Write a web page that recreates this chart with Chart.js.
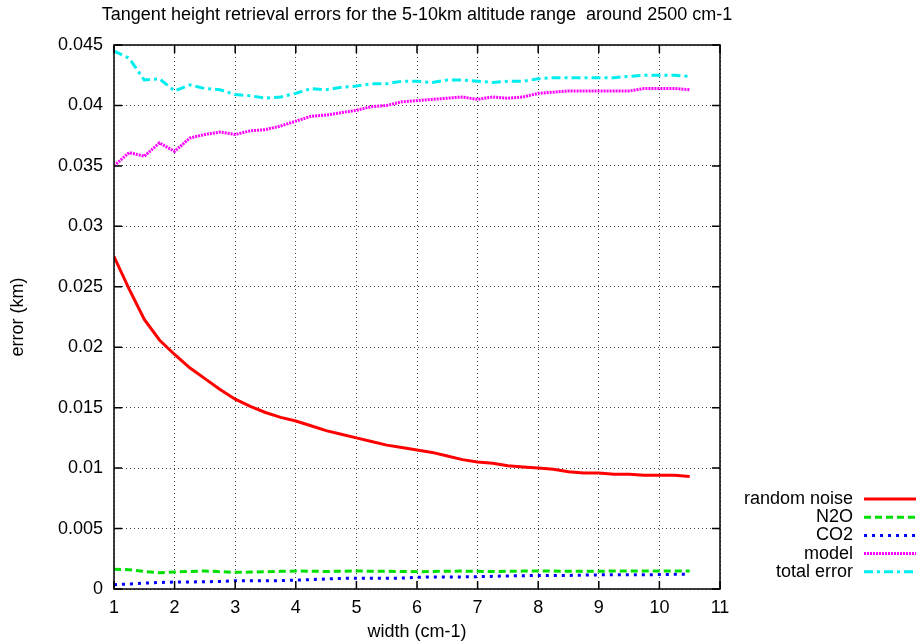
<!DOCTYPE html>
<html lang="en">
<head>
<meta charset="UTF-8">
<title>Tangent height retrieval errors</title>
<script src="https://cdn.jsdelivr.net/npm/chart.js"></script>
<style>
  body { margin: 0; background: #fff; }
</style>
</head>
<body>
<canvas id="errChart" width="916" height="642"></canvas>
<script>
const FONT = '"Liberation Sans", Arial, sans-serif';

// spectral window width (cm-1)
const widths = [1, 1.25, 1.5, 1.75, 2, 2.25, 2.5, 2.75, 3, 3.25, 3.5, 3.75, 4,
  4.25, 4.5, 4.75, 5, 5.25, 5.5, 5.75, 6, 6.25, 6.5, 6.75, 7, 7.25, 7.5, 7.75,
  8, 8.25, 8.5, 8.75, 9, 9.25, 9.5, 9.75, 10, 10.25, 10.5];

// errors in km
const randomNoise = [0.0275, 0.0248, 0.0223, 0.0206, 0.0194, 0.0183, 0.0174, 0.0165,
  0.0157, 0.0151, 0.0146, 0.0142, 0.0139, 0.0135, 0.0131, 0.0128, 0.0125, 0.0122,
  0.0119, 0.0117, 0.0115, 0.0113, 0.0110, 0.0107, 0.0105, 0.0104, 0.0102, 0.0101,
  0.0100, 0.0099, 0.0097, 0.0096, 0.0096, 0.0095, 0.0095, 0.0094, 0.0094, 0.0094, 0.0093];

const n2o = [0.00163, 0.00160, 0.00145, 0.00135, 0.00140, 0.00145, 0.00149, 0.00143,
  0.00138, 0.00140, 0.00143, 0.00146, 0.00149, 0.00147, 0.00145, 0.00147, 0.00149,
  0.00147, 0.00146, 0.00145, 0.00143, 0.00145, 0.00147, 0.00148, 0.00146, 0.00145,
  0.00146, 0.00148, 0.00149, 0.00148, 0.00147, 0.00146, 0.00147, 0.00149, 0.00149,
  0.00148, 0.00148, 0.00149, 0.00149];

const co2 = [0.00035, 0.00042, 0.00048, 0.00054, 0.00058, 0.00058, 0.00060, 0.00063,
  0.00068, 0.00068, 0.00068, 0.00069, 0.00073, 0.00078, 0.00083, 0.00088, 0.00088,
  0.00088, 0.00088, 0.00090, 0.00097, 0.00100, 0.00100, 0.00100, 0.00102, 0.00105,
  0.00108, 0.00110, 0.00112, 0.00112, 0.00112, 0.00115, 0.00117, 0.00117, 0.00117,
  0.00117, 0.00120, 0.00121, 0.00121];

const model = [0.0350, 0.0361, 0.0358, 0.0369, 0.0362, 0.0373, 0.0376, 0.0378, 0.0376,
  0.0379, 0.0380, 0.0383, 0.0387, 0.0391, 0.0392, 0.0394, 0.0396, 0.0399, 0.0400,
  0.0403, 0.0404, 0.0405, 0.0406, 0.0407, 0.0405, 0.0407, 0.0406, 0.0407, 0.0410,
  0.0411, 0.0412, 0.0412, 0.0412, 0.0412, 0.0412, 0.0414, 0.0414, 0.0414, 0.0413];

const totalError = [0.0445, 0.0439, 0.0421, 0.0422, 0.0412, 0.0417, 0.0414, 0.0413,
  0.0409, 0.0408, 0.0406, 0.0407, 0.0410, 0.0414, 0.0413, 0.0415, 0.0416, 0.0418,
  0.0418, 0.0420, 0.0420, 0.0419, 0.0421, 0.0421, 0.0420, 0.0419, 0.0420, 0.0420,
  0.0422, 0.0423, 0.0423, 0.0423, 0.0423, 0.0423, 0.0424, 0.0425, 0.0425, 0.0425, 0.0424];

const titleText = 'Tangent height retrieval errors for the 5-10km altitude range  around 2500 cm-1';
const xLabel = 'width (cm-1)';
const yLabel = 'error (km)';

function series(label, values, color, dash) {
  return {
    label: label,
    data: widths.map((w, i) => ({ x: w, y: values[i] })),
    borderColor: color,
    borderWidth: 3,
    borderDash: dash,
    pointRadius: 0,
    tension: 0,
    fill: false
  };
}

// frame with inward ticks on all four sides, title, axis titles and key
const gnuplotFrame = {
  id: 'gnuplotFrame',
  afterDatasetsDraw(chart) {
    const { ctx, chartArea: a, scales } = chart;
    ctx.save();
    ctx.strokeStyle = '#000';
    ctx.lineWidth = 1.5;
    ctx.setLineDash([]);
    ctx.strokeRect(a.left, a.top, a.right - a.left, a.bottom - a.top);
    const tl = 8;
    ctx.beginPath();
    scales.x.ticks.forEach(t => {
      const px = scales.x.getPixelForValue(t.value);
      ctx.moveTo(px, a.bottom); ctx.lineTo(px, a.bottom - tl);
      ctx.moveTo(px, a.top); ctx.lineTo(px, a.top + tl);
    });
    scales.y.ticks.forEach(t => {
      const py = scales.y.getPixelForValue(t.value);
      ctx.moveTo(a.left, py); ctx.lineTo(a.left + tl, py);
      ctx.moveTo(a.right, py); ctx.lineTo(a.right - tl, py);
    });
    ctx.stroke();
    ctx.restore();
  },
  afterDraw(chart) {
    const { ctx, chartArea: a } = chart;
    ctx.save();
    ctx.fillStyle = '#000';
    ctx.font = '18px ' + FONT;
    ctx.textAlign = 'center';
    ctx.textBaseline = 'middle';
    ctx.fillText(titleText, (a.left + a.right) / 2, 15);

    ctx.fillText(xLabel, (a.left + a.right) / 2, 632);
    ctx.save();
    ctx.translate(18, (a.top + a.bottom) / 2);
    ctx.rotate(-Math.PI / 2);
    ctx.fillText(yLabel, 0, 0);
    ctx.restore();

    // key, bottom right outside the plot
    ctx.textAlign = 'right';
    chart.data.datasets.forEach((ds, i) => {
      const y = 499 + i * 18.2;
      ctx.fillStyle = '#000';
      ctx.fillText(ds.label, 853, y);
      ctx.strokeStyle = ds.borderColor;
      ctx.lineWidth = 3;
      ctx.setLineDash(ds.borderDash || []);
      ctx.beginPath();
      ctx.moveTo(864, y);
      ctx.lineTo(916, y);
      ctx.stroke();
    });
    ctx.restore();
  }
};

new Chart(document.getElementById('errChart'), {
  type: 'line',
  data: {
    datasets: [
      series('random noise', randomNoise, '#ff0000', []),
      series('N2O', n2o, '#00e000', [7, 4]),
      series('CO2', co2, '#0000ff', [3, 5]),
      series('model', model, '#ff00ff', [2, 1]),
      series('total error', totalError, '#00eeee', [9, 4, 3, 4])
    ]
  },
  options: {
    responsive: false,
    animation: false,
    layout: { padding: { top: 45, right: 196, left: 0, bottom: 0 } },
    plugins: {
      legend: { display: false },
      title: { display: false },
      tooltip: { enabled: false }
    },
    scales: {
      x: {
        type: 'linear',
        min: 1,
        max: 11,
        ticks: {
          stepSize: 1,
          padding: 8,
          color: '#000',
          font: { family: FONT, size: 18 }
        },
        grid: {
          color: 'rgba(0,0,0,0.75)',
          lineWidth: 1,
          drawTicks: false
        },
        border: { display: false, dash: [1, 3] },
        afterFit(scale) { scale.height = 53; }
      },
      y: {
        min: 0,
        max: 0.045,
        ticks: {
          stepSize: 0.005,
          padding: 11,
          color: '#000',
          font: { family: FONT, size: 18 },
          callback: v => String(+v.toFixed(4))
        },
        grid: {
          color: 'rgba(0,0,0,0.75)',
          lineWidth: 1,
          drawTicks: false
        },
        border: { display: false, dash: [1, 3] },
        afterFit(scale) { scale.width = 114; }
      }
    }
  },
  plugins: [gnuplotFrame]
});
</script>
</body>
</html>
